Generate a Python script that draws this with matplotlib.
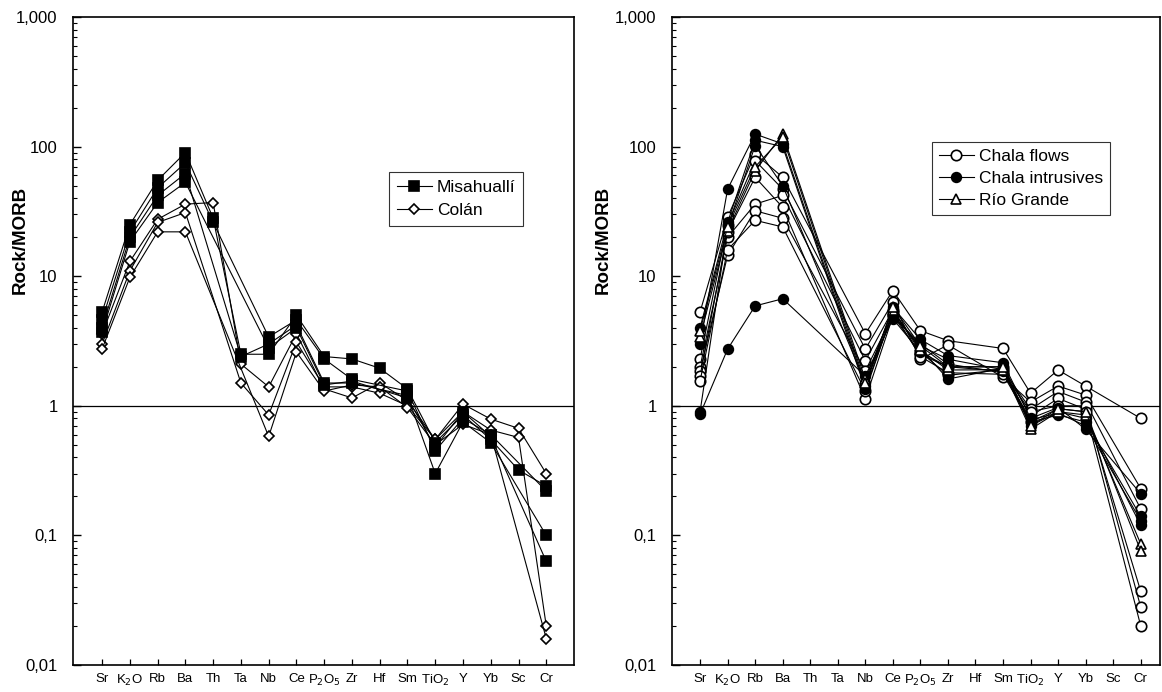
import numpy as np
import matplotlib
matplotlib.use('Agg')
import matplotlib.pyplot as plt
from matplotlib.ticker import FixedLocator, NullFormatter

plt.rcParams['font.family'] = ['Liberation Sans', 'DejaVu Sans']

nan = np.nan

# element order on the x axis
elements = ['Sr', 'K$_2$O', 'Rb', 'Ba', 'Th', 'Ta', 'Nb', 'Ce', 'P$_2$O$_5$', 'Zr',
            'Hf', 'Sm', 'TiO$_2$', 'Y', 'Yb', 'Sc', 'Cr']

# left panel, one row per sample (Rock/MORB)
#                Sr   K2O  Rb  Ba  Th   Ta   Nb   Ce   P2O5 Zr   Hf   Sm   TiO2 Y    Yb   Sc   Cr
misahualli = [[5.3, 25, 55, 90, 28, 2.5, 2.5, 5.0, 2.4, 2.3, 1.95, 1.35, 0.52, 0.85, 0.55, 0.32, 0.24],
              [4.6, 22, 48, 75, 26, nan, 3.4, 4.6, 2.3, 1.6, nan, 1.3, 0.45, 0.8, 0.6, nan, 0.22],
              [4.0, 20, 42, 62, nan, 2.4, 3.0, 4.2, 1.5, 1.5, nan, 1.2, 0.3, 0.75, 0.52, nan, 0.1],
              [3.7, 18.5, 37, 53, nan, nan, 2.8, 4.0, 1.45, 1.55, nan, 1.15, 0.48, 0.9, 0.58, nan, 0.063]]
colan = [[3.6, 13, 27.5, 36, 37, 2.1, 1.4, 3.6, 1.35, 1.15, 1.5, 1.1, 0.55, 1.03, 0.79, 0.67, 0.3],
         [3.0, 11, 26, 31, nan, 1.5, 0.85, 3.1, 1.4, 1.4, 1.25, 1.0, 0.55, 0.9, 0.65, 0.57, 0.02],
         [2.75, 9.8, 22, 22, nan, nan, 0.58, 2.6, 1.3, 1.45, 1.4, 0.97, 0.5, 0.72, 0.6, nan, 0.016]]

# right panel
#                 Sr   K2O  Rb  Ba  Th   Ta   Nb   Ce   P2O5 Zr   Hf   Sm   TiO2 Y    Yb   Sc   Cr
chala_flows = [[5.3, 28.5, 88, 58, nan, nan, 3.6, 7.75, 3.8, 3.18, nan, 2.77, 1.25, 1.89, 1.42, nan, 0.8],
               [2.3, 25, 78, 47, nan, nan, 2.74, 6.3, 2.29, 2.95, nan, 1.66, 1.07, 1.42, 1.21, nan, 0.23],
               [2.0, 20, 36, 42, nan, nan, 2.23, 5.5, 2.6, 1.72, nan, 1.9, 0.94, 1.29, 1.07, nan, 0.16],
               [1.86, 14.5, 32, 28, nan, nan, 1.86, 5.0, 2.5, 2.0, nan, 2.0, 0.83, 1.14, 0.94, nan, 0.037],
               [1.7, 22, 58, 34, nan, nan, 1.13, 4.9, 3.0, 2.1, nan, 1.8, 0.9, 1.0, 1.0, nan, 0.028],
               [1.56, 16, 27, 24, nan, nan, 1.3, 5.3, 2.4, 1.8, nan, 1.75, 0.75, 0.95, 0.9, nan, 0.02]]
chala_intr = [[3.0, 47, 125, 105, nan, nan, 1.43, 5.75, 3.25, 2.44, nan, 2.15, 0.8, 0.97, 0.66, nan, 0.21],
              [4.0, 26, 112, 100, nan, nan, 1.35, 5.3, 2.77, 1.61, nan, 1.95, 0.75, 0.85, 0.75, nan, 0.14],
              [0.9, 24, 102, 50, nan, nan, 1.5, 5.0, 2.9, 2.29, nan, 1.9, 0.7, 0.9, 0.8, nan, 0.12],
              [0.86, 2.74, 5.9, 6.7, nan, nan, 1.7, 4.7, 2.6, 2.0, nan, 1.85, 0.78, 0.88, 0.7, nan, 0.13]]
rio_grande = [[3.4, 22.5, 65, 125, nan, nan, 1.6, 5.5, 2.7, 1.89, nan, 1.9, 0.66, 0.9, 0.85, nan, 0.086],
              [3.8, 24, 70, 118, nan, nan, 1.5, 5.8, 2.9, 2.0, nan, 2.0, 0.7, 0.95, 0.9, nan, 0.076]]

ytick_vals = [0.01, 0.1, 1, 10, 100, 1000]
ytick_text = ['0,01', '0,1', '1', '10', '100', '1,000']


def draw_group(ax, rows, marker, face, label, ms):
    x = np.arange(len(elements))
    for i, row in enumerate(rows):
        y = np.array(row, dtype=float)
        ok = np.isfinite(y)
        ax.plot(x[ok], y[ok], '-', color='black', lw=0.8, marker=marker, ms=ms,
                mfc=face, mec='black', mew=1.2, label=label if i == 0 else None)
# end draw_group()


def style_axes(ax, xlim, label_x):
    ax.set_yscale('log')
    ax.set_ylim(0.01, 1000)
    ax.set_xlim(*xlim)
    ax.axhline(1, color='black', lw=0.9, zorder=1)
    ax.yaxis.set_major_locator(FixedLocator(ytick_vals))
    ax.set_yticklabels(ytick_text)
    ax.yaxis.set_minor_locator(FixedLocator(
        [m * 10.0**e for e in range(-2, 3) for m in range(2, 10)]))
    ax.yaxis.set_minor_formatter(NullFormatter())
    ax.set_xticks(np.arange(len(elements)))
    ax.set_xticklabels(elements, fontsize=9.5)
    ax.tick_params(axis='y', which='major', direction='in', length=6, width=1,
                   labelsize=12, pad=11, right=False)
    ax.tick_params(axis='y', which='minor', direction='in', length=3, width=0.8, right=False)
    ax.tick_params(axis='x', direction='in', length=4, width=0.9, top=False, pad=6)
    for s in ax.spines.values():
        s.set_linewidth(1.2)
    ax.set_ylabel('Rock/MORB', fontsize=13.5, fontweight='bold')
    ax.yaxis.set_label_coords(label_x, 0.656)
# end style_axes()


def main():
    fig = plt.figure(figsize=(11.62, 6.92), dpi=100)
    ax1 = fig.add_axes([0.0628, 0.039, 0.4312, 0.9364])
    ax2 = fig.add_axes([0.5783, 0.039, 0.42, 0.9364])

    style_axes(ax1, (-1.05, 17.0), -0.088)
    draw_group(ax1, colan, 'D', 'white', 'Colán', 5.5)
    draw_group(ax1, misahualli, 's', 'black', 'Misahuallí', 7)
    h, l = ax1.get_legend_handles_labels()
    leg1 = ax1.legend(h[::-1], l[::-1], loc='upper left', bbox_to_anchor=(0.631, 0.761),
                      borderaxespad=0, fancybox=False, edgecolor='black', fontsize=12.5,
                      handlelength=2.0, handletextpad=0.3, labelspacing=0.45, borderpad=0.45)
    leg1.get_frame().set_linewidth(0.8)

    style_axes(ax2, (-1.02, 16.7), -0.123)
    draw_group(ax2, chala_flows, 'o', 'white', 'Chala flows', 7.5)
    draw_group(ax2, chala_intr, 'o', 'black', 'Chala intrusives', 7)
    draw_group(ax2, rio_grande, '^', 'white', 'Río Grande', 7)
    leg2 = ax2.legend(loc='upper left', bbox_to_anchor=(0.533, 0.807),
                      borderaxespad=0, fancybox=False, edgecolor='black', fontsize=12.5,
                      handlelength=2.0, handletextpad=0.3, labelspacing=0.4, borderpad=0.4)
    leg2.get_frame().set_linewidth(0.8)

    fig.savefig('out.png', dpi=100, facecolor='white')
# end main()

if __name__ == '__main__':
    main()
